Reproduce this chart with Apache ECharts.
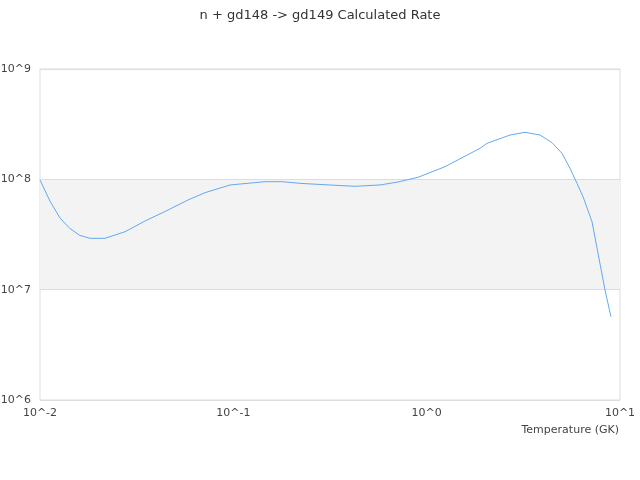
<!DOCTYPE html>
<html>
<head>
<meta charset="utf-8">
<script src="https://cdn.jsdelivr.net/npm/echarts@6/dist/echarts.min.js"></script>
<style>html,body{margin:0;padding:0;background:#fff}#c{width:640px;height:480px}</style>
</head>
<body>
<div id="c"></div>
<script>
const titleText = 'n + gd148 -> gd149 Calculated Rate';
const xName = 'Temperature (GK)';
const temperature = [0.01, 0.01126, 0.01269, 0.01429, 0.0161, 0.01814, 0.02169, 0.02753, 0.0349, 0.0443, 0.0583, 0.0714, 0.0961, 0.1458, 0.1785, 0.2212, 0.3357, 0.4259, 0.5736, 0.7107, 0.902, 1.244, 1.888, 2.052, 2.698, 3.226, 3.857, 4.449, 5.012, 5.512, 5.99, 6.44, 7.165, 7.695, 8.365, 8.98];
const rate = [9.87e7, 6.36e7, 4.46e7, 3.58e7, 3.10e7, 2.92e7, 2.92e7, 3.35e7, 4.19e7, 5.11e7, 6.50e7, 7.57e7, 8.89e7, 9.52e7, 9.52e7, 9.20e7, 8.83e7, 8.65e7, 8.89e7, 9.46e7, 1.043e8, 1.302e8, 1.911e8, 2.12e8, 2.52e8, 2.67e8, 2.52e8, 2.15e8, 1.72e8, 1.26e8, 9.20e7, 6.96e7, 4.13e7, 2.14e7, 9.93e6, 5.69e6];

const chart = echarts.init(document.getElementById('c'), null, {renderer: 'canvas'});
const fmt = v => '10^' + Math.round(Math.log10(v));
chart.setOption({
  animation: false,
  backgroundColor: '#fff',
  title: {
    text: titleText, left: 'center', top: 4,
    textStyle: {fontSize: 13, fontWeight: 'normal', color: '#333', fontFamily: 'DejaVu Sans'}
  },
  grid: {left: 40, right: 20, top: 69, bottom: 80, show: true, borderColor: '#ddd', borderWidth: 1, backgroundColor: 'transparent', outerBoundsMode: 'none', containLabel: false},
  xAxis: {
    type: 'log', min: 0.01, max: 10, logBase: 10,
    name: xName, nameLocation: 'end', nameGap: -1,
    nameTextStyle: {align: 'right', verticalAlign: 'top', padding: [25, 0, 0, 0], fontSize: 11, color: '#444', fontFamily: 'DejaVu Sans'},
    axisLine: {show: false}, axisTick: {show: false},
    splitLine: {show: false},
    axisLabel: {formatter: fmt, fontSize: 11, color: '#444', margin: 8, fontFamily: 'DejaVu Sans'}
  },
  yAxis: {
    type: 'log', min: 1e6, max: 1e9, logBase: 10,
    axisLine: {show: false}, axisTick: {show: false},
    splitLine: {show: true, lineStyle: {color: '#ddd'}},
    splitArea: {show: true, areaStyle: {color: ['#f3f3f3', 'rgba(255,255,255,0)']}},
    axisLabel: {formatter: fmt, fontSize: 11, color: '#444', margin: 9, fontFamily: 'DejaVu Sans'}
  },
  series: [{
    type: 'line', data: temperature.map((t, i) => [t, rate[i]]),
    showSymbol: false, symbol: 'none',
    lineStyle: {color: '#62a9f2', width: 1},
    itemStyle: {color: '#62a9f2'}
  }]
});
</script>
</body>
</html>
